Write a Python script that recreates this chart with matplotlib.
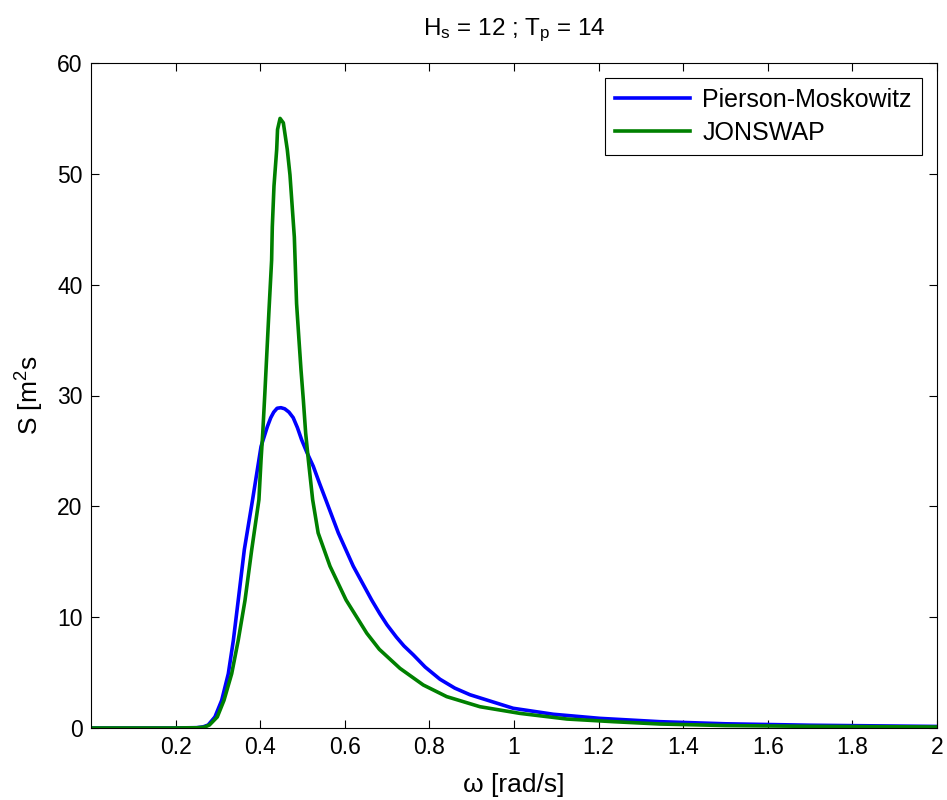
import matplotlib
matplotlib.use("Agg")
import matplotlib.pyplot as plt

plt.rcParams['font.family'] = ['Liberation Sans', 'DejaVu Sans']
plt.rcParams['mathtext.default'] = 'regular'

# values
omega_pm = [0.0, 0.19, 0.25, 0.265, 0.277, 0.293, 0.309, 0.3246, 0.3365, 0.348,
            0.3625, 0.382, 0.392, 0.402, 0.417, 0.425, 0.432, 0.44, 0.449, 0.458,
            0.468, 0.478, 0.488, 0.498, 0.51, 0.5256, 0.54, 0.555, 0.5847, 0.620,
            0.6635, 0.683, 0.70, 0.722, 0.74, 0.762, 0.79, 0.825, 0.86, 0.896,
            0.998, 1.093, 1.203, 1.345, 1.5, 1.7, 2.0]
s_pm = [0.0, 0.0, 0.03, 0.1, 0.27, 1.0, 2.5, 4.9, 7.9, 11.5,
        16.1, 20.6, 23.0, 25.4, 27.2, 28.0, 28.5, 28.85, 28.9, 28.8,
        28.5, 28.0, 27.1, 26.0, 24.9, 23.6, 22.1, 20.6, 17.6, 14.6,
        11.55, 10.3, 9.3, 8.2, 7.4, 6.6, 5.5, 4.4, 3.6, 3.0,
        1.78, 1.24, 0.87, 0.57, 0.38, 0.25, 0.14]

omega_js = [0.0, 0.19, 0.25, 0.268, 0.28, 0.2986, 0.3144, 0.3326, 0.348, 0.364,
            0.380, 0.397, 0.402, 0.406, 0.411, 0.4153, 0.4208, 0.427, 0.4286, 0.4326,
            0.439, 0.441, 0.447, 0.4547, 0.464, 0.4704, 0.475, 0.4807, 0.486, 0.4917,
            0.4965, 0.502, 0.5075, 0.5138, 0.524, 0.537, 0.565, 0.603, 0.652, 0.6816,
            0.7305, 0.7856, 0.841, 0.9196, 1.014, 1.125, 1.235, 1.345, 1.5, 1.7, 2.0]
s_js = [0.0, 0.0, 0.02, 0.08, 0.27, 1.0, 2.5, 4.9, 7.9, 11.5,
        16.1, 20.6, 24.2, 26.6, 30.2, 33.5, 37.7, 42.2, 45.2, 48.9,
        52.2, 54.0, 55.0, 54.6, 52.2, 49.9, 47.4, 44.3, 38.3, 35.0,
        32.3, 29.6, 26.6, 24.2, 20.6, 17.6, 14.6, 11.55, 8.55, 7.1,
        5.38, 3.88, 2.83, 1.92, 1.32, 0.81, 0.57, 0.36, 0.22, 0.15, 0.09]

x_ticks = [0.2, 0.4, 0.6, 0.8, 1, 1.2, 1.4, 1.6, 1.8, 2]
x_labels = ['0.2', '0.4', '0.6', '0.8', '1', '1.2', '1.4', '1.6', '1.8', '2']
y_ticks = [0, 10, 20, 30, 40, 50, 60]

fig = plt.figure(figsize=(9.47, 8), dpi=100)
ax = fig.add_axes([0.0961, 0.09, 0.8933, 0.83125])

ax.plot(omega_pm, s_pm, color=(0, 0, 1), lw=2.6, label='Pierson-Moskowitz')
ax.plot(omega_js, s_js, color=(0, 0.5, 0), lw=2.6, label='JONSWAP')

ax.set_xlim(0, 2)
ax.set_ylim(0, 60)
ax.set_xticks(x_ticks)
ax.set_xticklabels(x_labels)
ax.set_yticks(y_ticks)
ax.tick_params(direction='in', top=True, right=True, labelsize=16.5, length=6, pad=6)
for sp in ax.spines.values():
    sp.set_linewidth(0.8)

ax.set_title('H$_s$ = 12 ; T$_p$ = 14', fontsize=17.5, pad=20)
ax.set_xlabel('ω [rad/s]', fontsize=19, labelpad=10)
ax.set_ylabel('S [m$^2$s', fontsize=19, labelpad=8)

leg = ax.legend(loc='upper right', fontsize=18, fancybox=False, edgecolor='black',
                framealpha=1, borderaxespad=0.6, handlelength=3.0, borderpad=0.4,
                labelspacing=0.35, handletextpad=0.5)
leg.get_frame().set_linewidth(0.8)

fig.savefig('out.png', dpi=100)
